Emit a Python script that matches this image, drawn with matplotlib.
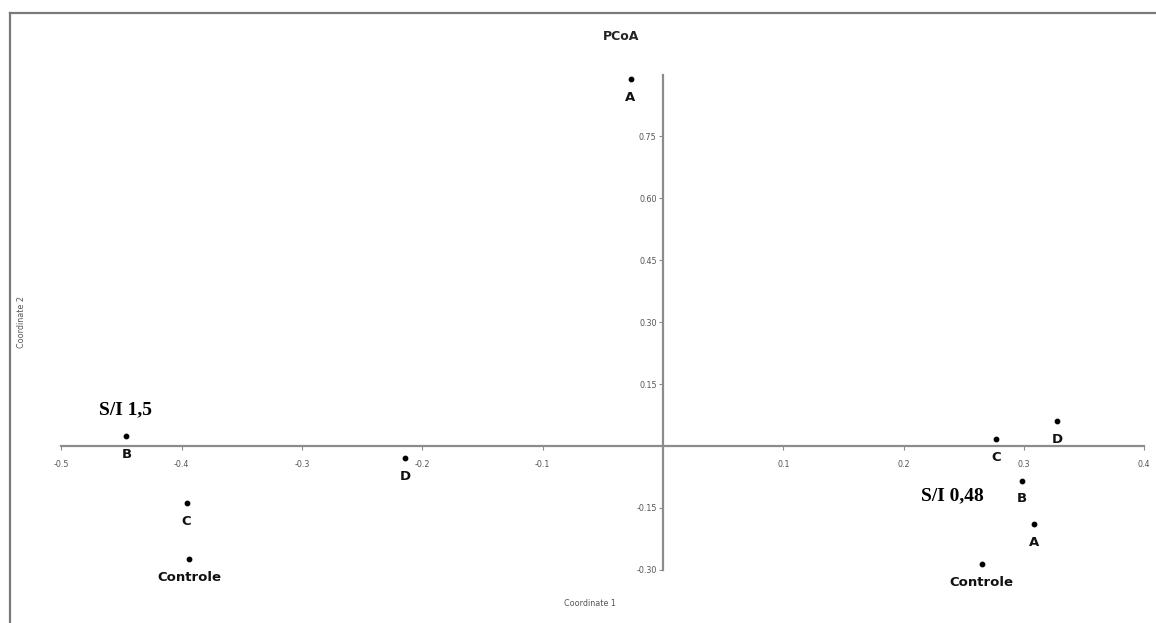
import matplotlib.pyplot as plt
from matplotlib.lines import Line2D

# PCoA scores
labels = ["A", "B", "C", "Controle", "D", "C", "D", "B", "A", "Controle"]
coord1 = [-0.027, -0.446, -0.396, -0.394, -0.2145, 0.277, 0.3275, 0.298, 0.3086, 0.265]
coord2 = [0.889, 0.024, -0.139, -0.274, -0.029, 0.016, 0.060, -0.084, -0.189, -0.286]

xticks = [-0.5, -0.4, -0.3, -0.2, -0.1, 0.1, 0.2, 0.3, 0.4]
yticks = [-0.30, -0.15, 0.15, 0.30, 0.45, 0.60, 0.75]

groups = ["S/I 1,5", "S/I 0,48"]
group_pos = [(-0.4466, 0.0889), (0.2402, -0.1204)]

fig = plt.figure(figsize=(11.56, 6.23), dpi=100)
ax = fig.add_axes([0, 0, 1, 1])
ax.set_xlim(-0.5511, 0.4098)
ax.set_ylim(-0.4289, 1.0807)

grey = "#8c8c8c"
for side in ["top", "right"]:
    ax.spines[side].set_visible(False)
ax.spines["left"].set_position(("data", 0))
ax.spines["bottom"].set_position(("data", 0))
ax.spines["left"].set_bounds(-0.30, 0.90)
ax.spines["bottom"].set_bounds(-0.5, 0.4)
for side in ["left", "bottom"]:
    ax.spines[side].set_color(grey)
    ax.spines[side].set_linewidth(1.6)

ax.set_xticks(xticks)
ax.set_xticklabels([f"{v:.1f}" for v in xticks])
ax.set_yticks(yticks)
ax.set_yticklabels([f"{v:.2f}" for v in yticks])
ax.tick_params(axis="both", direction="out", length=3, width=0.8, color=grey,
               labelsize=5.8, labelcolor="#555555", pad=7)
ax.tick_params(axis="y", pad=1.5)

ax.scatter(coord1, coord2, s=10, color="black", zorder=3)
for lab, x, y in zip(labels, coord1, coord2):
    ax.annotate(lab, (x, y), xytext=(0, -13), textcoords="offset points",
                ha="center", va="center", fontsize=9.5, fontweight="bold",
                color="#111111")

for g, (gx, gy) in zip(groups, group_pos):
    ax.text(gx, gy, g, ha="center", va="center", fontsize=14,
            fontweight="bold", family="Liberation Serif")

fig.text(621 / 1156, 1 - 37 / 623, "PCoA", ha="center", va="center",
         fontsize=9, fontweight="bold", color="#222222")
fig.text(590 / 1156, 1 - 604 / 623, "Coordinate 1", ha="center", va="center",
         fontsize=5.8, color="#555555")
fig.text(21 / 1156, 1 - 322 / 623, "Coordinate 2", ha="center", va="center",
         fontsize=5.8, color="#555555", rotation=90)

# window frame of the screenshot
fig.add_artist(Line2D([10 / 1156, 10 / 1156], [0, 1 - 13 / 623], color="#7a7a7a", lw=1.6))
fig.add_artist(Line2D([10 / 1156, 1], [1 - 13 / 623, 1 - 13 / 623], color="#7a7a7a", lw=1.6))

fig.savefig("out.png", dpi=100)
